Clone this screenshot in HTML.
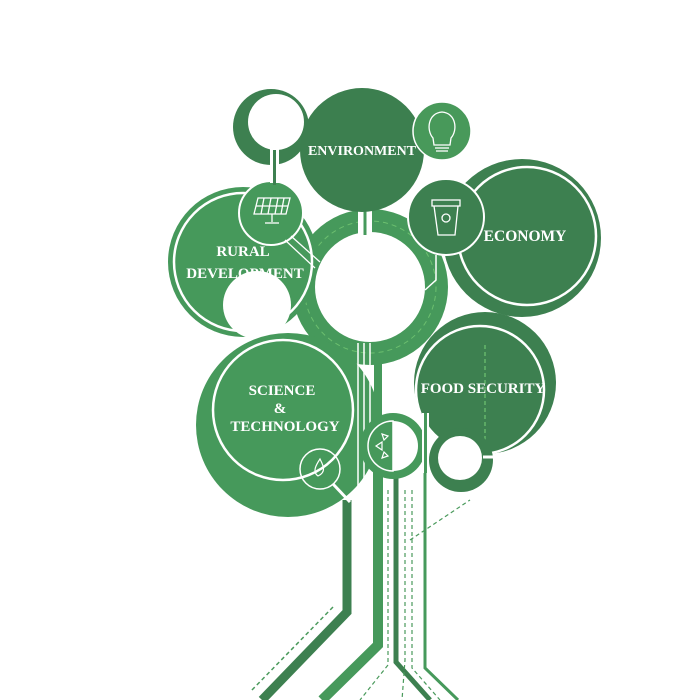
<!DOCTYPE html>
<html><head><style>html,body{margin:0;padding:0;background:#fff}svg{display:block}</style></head>
<body>
<svg width="700" height="700" viewBox="0 0 700 700" xmlns="http://www.w3.org/2000/svg" font-family="'Liberation Serif',serif" font-weight="bold">
<g fill="none" stroke-linejoin="miter">
<polyline points="347,500 347,612 262,700" stroke="#3d8050" stroke-width="9"/>
<polyline points="338,612 255,697" stroke="#fff" stroke-width="1.5"/>
<polyline points="333,607 250,692" stroke="#4a9a5c" stroke-width="1.5" stroke-dasharray="4,3"/>
<polyline points="378,470 378,645 322,700" stroke="#46995b" stroke-width="10"/>
<polyline points="396,470 396,662 430,700" stroke="#3d8050" stroke-width="5"/>
<polyline points="388,490 388,665 360,700" stroke="#4a9a5c" stroke-width="1.2" stroke-dasharray="4,3"/>
<polyline points="405,490 405,660 402,700" stroke="#4a9a5c" stroke-width="1.2" stroke-dasharray="4,3"/>
<polyline points="412,490 412,668 440,700" stroke="#4a9a5c" stroke-width="1.2" stroke-dasharray="4,3"/>
<polyline points="425,470 425,668 458,700" stroke="#46995b" stroke-width="3"/>
<polyline points="410,540 470,500" stroke="#4a9a5c" stroke-width="1.2" stroke-dasharray="4,3"/>
</g>
<circle cx="370" cy="287" r="78" fill="#46995b"/>
<circle cx="370" cy="287" r="66" fill="none" stroke="#6cbf6f" stroke-width="1" stroke-dasharray="5,4"/>
<circle cx="243" cy="262" r="75" fill="#46995b"/>
<circle cx="243" cy="262" r="69" fill="none" stroke="#fff" stroke-width="2.5"/>
<circle cx="257" cy="305" r="34" fill="#fff"/>
<circle cx="271" cy="213" r="32" fill="#46995b" stroke="#fff" stroke-width="2"/>
<g stroke="#fff" stroke-width="1.3" fill="none">
<polygon points="258,198 290,198 286,214 254,214"/>
<line x1="264" y1="198" x2="261" y2="214"/><line x1="271" y1="198" x2="268" y2="214"/><line x1="278" y1="198" x2="275" y2="214"/><line x1="284" y1="198" x2="281" y2="214"/>
<line x1="256" y1="206" x2="288" y2="206"/>
<line x1="272" y1="214" x2="272" y2="222"/><line x1="265" y1="223" x2="279" y2="223"/>
<line x1="285" y1="240" x2="315" y2="268"/><line x1="291" y1="236" x2="320" y2="262"/>
</g>
<text x="243" y="256" font-size="15" fill="#fff" text-anchor="middle">RURAL</text>
<text x="245" y="278" font-size="15" fill="#fff" text-anchor="middle">DEVELOPMENT</text>
<circle cx="370" cy="287" r="55" fill="#fff"/>
<circle cx="271" cy="127" r="38" fill="#3d8050"/>
<circle cx="276" cy="122" r="28" fill="#fff"/>
<rect x="270" y="148" width="9" height="35" fill="#fff"/>
<line x1="274.5" y1="150" x2="274.5" y2="185" stroke="#3d8050" stroke-width="3"/>
<rect x="358" y="205" width="14" height="30" fill="#fff"/>
<line x1="365" y1="205" x2="365" y2="235" stroke="#46995b" stroke-width="3"/>
<circle cx="362" cy="150" r="62" fill="#3c7f4f"/>
<text x="362" y="155" font-size="14" fill="#fff" text-anchor="middle">ENVIRONMENT</text>
<circle cx="442" cy="131" r="29" fill="#48995a" stroke="#fff" stroke-width="1.5"/>
<g stroke="#fff" stroke-width="1.3" fill="none">
<path d="M433,138 C426,130 428,113 442,112 C456,113 458,130 451,138 L450,145 L434,145 Z"/>
<line x1="435" y1="148" x2="449" y2="148"/><line x1="436" y1="151" x2="448" y2="151"/>
</g>
<line x1="440" y1="160" x2="440" y2="185" stroke="#fff" stroke-width="6"/>
<circle cx="522" cy="238" r="79" fill="#3d8050"/>
<circle cx="527" cy="236" r="69" fill="none" stroke="#fff" stroke-width="2.5"/>
<text x="525" y="241" font-size="15.5" fill="#fff" text-anchor="middle">ECONOMY</text>
<circle cx="446" cy="217" r="38" fill="#3d8050" stroke="#fff" stroke-width="2"/>
<g stroke="#fff" stroke-width="1.3" fill="none">
<rect x="432" y="200" width="28" height="6"/>
<path d="M434,206 L438,235 L455,235 L458,206"/>
<circle cx="446" cy="218" r="4"/>
</g>
<polyline points="436,255 436,280 425,290" fill="none" stroke="#fff" stroke-width="1.5"/>
<circle cx="288" cy="425" r="92" fill="#46995b"/>
<circle cx="283" cy="410" r="70" fill="none" stroke="#fff" stroke-width="2.5"/>
<text x="282" y="395" font-size="15" fill="#fff" text-anchor="middle">SCIENCE</text>
<text x="280" y="413" font-size="15" fill="#fff" text-anchor="middle">&amp;</text>
<text x="285" y="431" font-size="15" fill="#fff" text-anchor="middle">TECHNOLOGY</text>
<circle cx="320" cy="469" r="20" fill="none" stroke="#fff" stroke-width="1.5"/>
<path d="M318,476 C312,472 316,465 320,459 C323,465 327,472 318,476Z" fill="none" stroke="#fff" stroke-width="1.2"/>
<line x1="333" y1="484" x2="350" y2="502" stroke="#fff" stroke-width="3"/>
<g fill="none" stroke="#fff" stroke-width="1.5">
<line x1="358" y1="343" x2="358" y2="510"/><line x1="364" y1="343" x2="364" y2="510"/>
<line x1="370" y1="343" x2="370" y2="510"/>
</g>
<line x1="378" y1="360" x2="378" y2="470" stroke="#46995b" stroke-width="8"/>
<circle cx="393" cy="446" r="33" fill="#46995b"/>
<circle cx="393" cy="446" r="25" fill="#fff"/>
<path d="M393,421 A25,25 0 0 0 393,471 Z" fill="#46995b" stroke="#fff" stroke-width="1.5"/>
<g stroke="#fff" stroke-width="1.2" fill="none"><polygon points="382,434 388,436 384,440"/><polygon points="376,446 382,442 382,450"/><polygon points="382,458 388,456 384,452"/></g>
<circle cx="485" cy="383" r="71" fill="#3d8050"/>
<circle cx="480" cy="390" r="64" fill="none" stroke="#fff" stroke-width="2.5"/>
<line x1="485" y1="345" x2="485" y2="470" stroke="#6cbf6f" stroke-width="1.3" stroke-dasharray="4,3"/>
<text x="483" y="393" font-size="15" fill="#fff" text-anchor="middle">FOOD SECURITY</text>
<rect x="422" y="413" width="7" height="60" fill="#fff"/>
<line x1="425.5" y1="413" x2="425.5" y2="473" stroke="#46995b" stroke-width="3"/>
<circle cx="461" cy="460" r="32" fill="#3d8050"/>
<circle cx="460" cy="458" r="22" fill="#fff"/>
<line x1="483" y1="457" x2="495" y2="457" stroke="#fff" stroke-width="3"/>
</svg>
</body></html>
